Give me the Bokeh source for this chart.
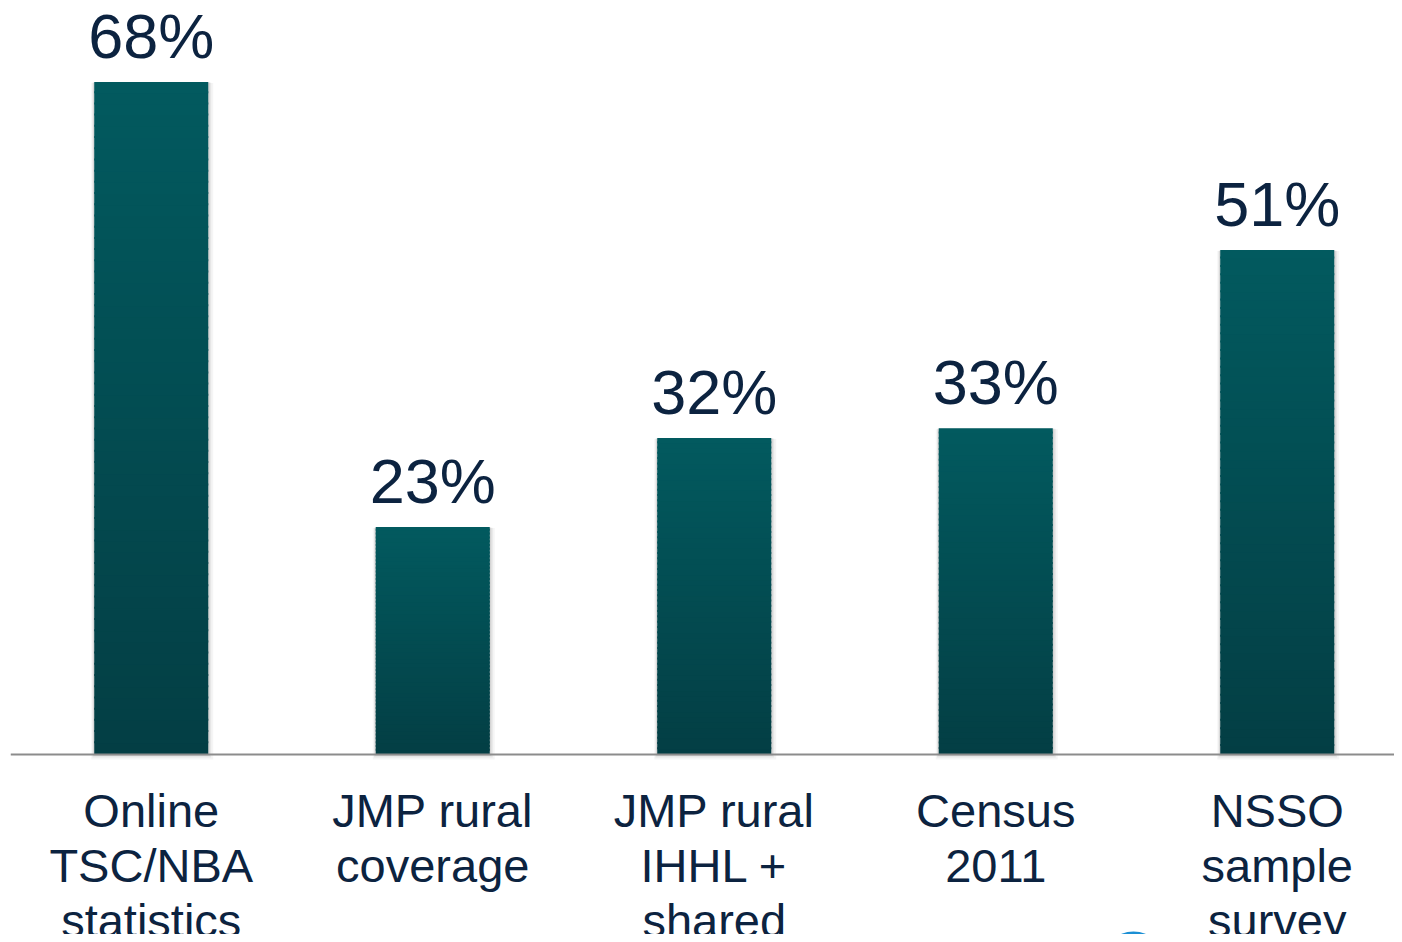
from bokeh.plotting import figure
from bokeh.models import Range1d, Span
from bokeh.core.properties import value
from bokeh.embed import file_html
from bokeh.resources import INLINE

# ---- data ----
categories = ["Online\nTSC/NBA\nstatistics", "JMP rural\ncoverage", "JMP rural\nIHHL +\nshared",
              "Census\n2011", "NSSO\nsample\nsurvey"]
values = [68, 23, 32, 33, 51]
value_labels = ["68%", "23%", "32%", "33%", "51%"]

# ---- style constants ----
TEXT_COLOR = "#0c2340"
TOP_COLOR = (0x02, 0x5a, 0x5f)
BOT_COLOR = (0x03, 0x3e, 0x44)
BAR_W = 0.405
PX_X = 281.5   # px per category unit
PX_Y = 9.89    # px per percent
W, H = 1394, 934
LEFT = 10
BASE = 754     # pixel row of the zero line

p = figure(width=W, height=H, output_backend="svg", toolbar_location=None,
           x_range=Range1d(-0.5, -0.5 + (W - LEFT) / PX_X),
           y_range=Range1d((BASE - H) / PX_Y, BASE / PX_Y),
           min_border_left=LEFT, min_border_right=0, min_border_top=0, min_border_bottom=0)
p.axis.visible = False
p.grid.visible = False
p.outline_line_color = None
p.background_fill_color = "white"
p.border_fill_color = "white"

xs = list(range(len(values)))

# soft shadow
for k, a in [(5, 0.04), (3, 0.06), (1.5, 0.08)]:
    p.quad(left=[x - BAR_W / 2 - k / PX_X * 0.6 for x in xs],
           right=[x + BAR_W / 2 + k / PX_X for x in xs],
           bottom=[-k / PX_Y for _ in xs],
           top=[v - k / PX_Y * 0.2 for v in values],
           fill_color="black", fill_alpha=a, line_color=None)

# gradient bars (stacked slices, overlapping to avoid seams)
N = 60
L, R, B, T, C = [], [], [], [], []
for x, v in zip(xs, values):
    for i in range(N):
        f = (i + 0.5) / N
        col = tuple(int(round(BOT_COLOR[j] + (TOP_COLOR[j] - BOT_COLOR[j]) * f)) for j in range(3))
        L.append(x - BAR_W / 2)
        R.append(x + BAR_W / 2)
        B.append(v * i / N)
        T.append(min(v, v * (i + 1) / N + 2.0 / PX_Y))
        C.append("#%02x%02x%02x" % col)
p.quad(left=L, right=R, bottom=B, top=T, fill_color=C, line_color=None)

# baseline axis line
p.add_layout(Span(location=0, dimension="width", line_color="#8c8c8c", line_width=2))

# value labels
p.text(x=xs, y=values, text=value_labels, text_align="center", text_baseline="alphabetic",
       y_offset=-46, text_font=value("Liberation Sans"), text_font_size="63px",
       text_color=TEXT_COLOR)

# category labels (one line at a time)
lx, ly, lt = [], [], []
for x, c in zip(xs, categories):
    for i, line in enumerate(c.split("\n")):
        lx.append(x)
        ly.append(-(830 - BASE) / PX_Y - i * 55 / PX_Y)
        lt.append(line)
p.text(x=lx, y=ly, text=lt, text_align="center", text_baseline="alphabetic",
       y_offset=-20, text_font=value("Liberation Sans"), text_font_size="47px",
       text_color=TEXT_COLOR)

# partial logo at bottom
lx0 = (1133 - LEFT) / PX_X - 0.5
ly0 = (BASE - 962) / PX_Y
p.scatter(x=[lx0], y=[ly0], size=62, fill_color="#1b8fd4", line_color=None)
p.scatter(x=[lx0], y=[ly0], size=40, fill_color="#5cc0ee", fill_alpha=0.5, line_color=None)

open("out.html", "w").write(file_html(p, INLINE))
